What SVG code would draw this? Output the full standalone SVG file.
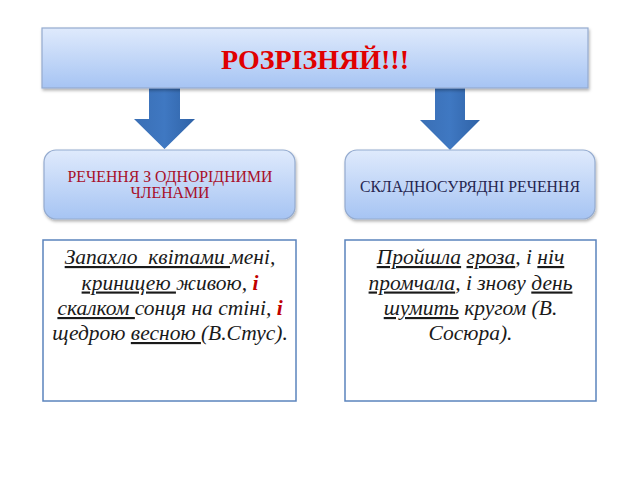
<svg xmlns="http://www.w3.org/2000/svg" width="640" height="480" viewBox="0 0 640 480">
<defs>
<linearGradient id="gBox" x1="0" y1="0" x2="0" y2="1">
<stop offset="0" stop-color="#dfeafc"/>
<stop offset="1" stop-color="#a6c4f3"/>
</linearGradient>
<linearGradient id="gArrow" x1="0" y1="0" x2="1" y2="0">
<stop offset="0" stop-color="#3a6fb5"/>
<stop offset="0.5" stop-color="#3f78c2"/>
<stop offset="1" stop-color="#2f62a6"/>
</linearGradient>
<filter id="sh" x="-10%" y="-20%" width="120%" height="150%">
<feDropShadow dx="1" dy="2" stdDeviation="1.5" flood-color="#000" flood-opacity="0.3"/>
</filter>
<style>
.box{fill:url(#gBox);stroke:#94abcf;stroke-width:1.2;filter:url(#sh)}
.pane{fill:#fff;stroke:#5b84bd;stroke-width:1.5}
.title{font-family:"Liberation Serif","DejaVu Serif",serif;font-weight:bold;font-size:28px;fill:#e00000;text-anchor:middle}
.lbl{font-family:"Liberation Serif","DejaVu Serif",serif;font-size:15.8px;text-anchor:middle}
.q{font-family:"Liberation Serif","DejaVu Serif",serif;font-style:italic;font-size:21.5px;fill:#1a1a1a;text-anchor:middle;white-space:pre}
.u{text-decoration:underline}
.r{fill:#c00000;font-weight:bold}
.arrow{fill:url(#gArrow)}
</style>
</defs>
<rect width="640" height="480" fill="#fff"/>
<g id="connectors">
<path class="arrow" d="M149 86 H180 V119 H195 L164.5 149 L134 119 H149 Z"/>
<path class="arrow" d="M435 86 H465 V120 H480 L450 150 L420 120 H435 Z"/>
</g>
<g id="title">
<rect class="box" x="42" y="28" width="546" height="60"/>
<text class="title" x="315" y="69">РОЗРІЗНЯЙ!!!</text>
</g>
<g id="node-left">
<rect class="box" x="44" y="150" width="251" height="69" rx="12"/>
<text class="lbl" fill="#a8102a"><tspan x="170" y="182">РЕЧЕННЯ З ОДНОРІДНИМИ</tspan><tspan x="170" y="198">ЧЛЕНАМИ</tspan></text>
</g>
<g id="node-right">
<rect class="box" x="345" y="150" width="250" height="69" rx="12"/>
<text class="lbl" fill="#262650" x="470" y="192">СКЛАДНОСУРЯДНІ РЕЧЕННЯ</text>
</g>
<g id="example-left">
<rect class="pane" x="43" y="240" width="253" height="161"/>
<text class="q" x="170" y="264"><tspan class="u">Запахло  квітами </tspan>мені,</text>
<text class="q" x="170" y="289.5"><tspan class="u">криницею </tspan>живою, <tspan class="r">і</tspan></text>
<text class="q" x="170" y="315"><tspan class="u">скалком </tspan>сонця на стіні, <tspan class="r">і</tspan></text>
<text class="q" x="170" y="340">щедрою <tspan class="u">весною </tspan>(В.Стус).</text>
</g>
<g id="example-right">
<rect class="pane" x="345" y="240" width="251" height="161"/>
<text class="q" x="470.5" y="264"><tspan class="u">Пройшла</tspan> <tspan class="u">гроза</tspan>, і <tspan class="u">ніч</tspan></text>
<text class="q" x="470.5" y="289.5"><tspan class="u">промчала</tspan>, і знову <tspan class="u">день</tspan></text>
<text class="q" x="470.5" y="315"><tspan class="u">шумить</tspan> кругом (В.</text>
<text class="q" x="470.5" y="340">Сосюра).</text>
</g>
</svg>
